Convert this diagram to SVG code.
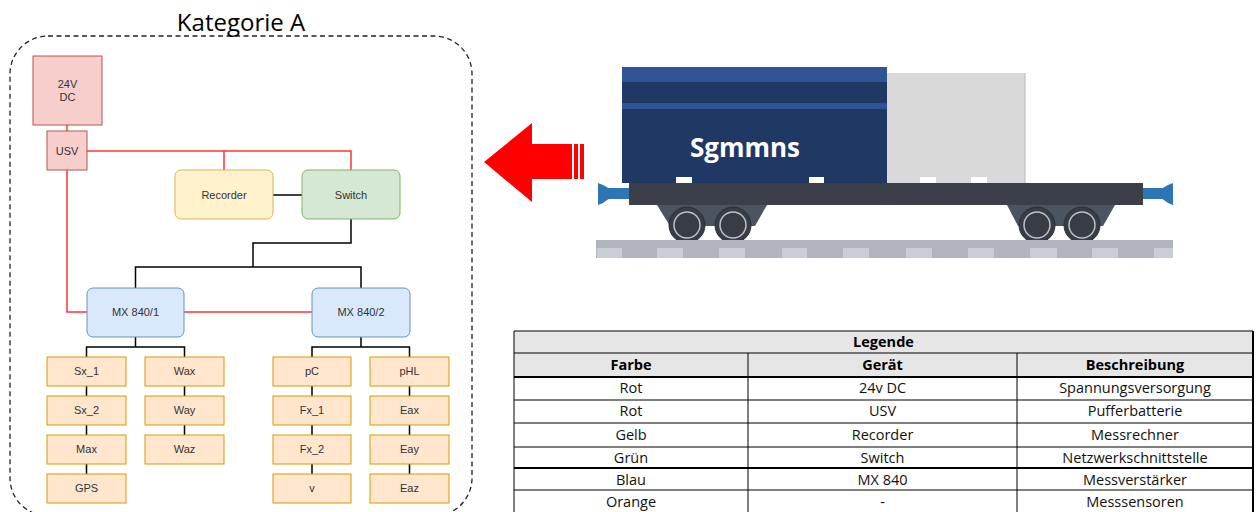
<svg xmlns="http://www.w3.org/2000/svg" width="1258" height="512" viewBox="0 0 1258 512">
  <style>
    .lbl { font-family: "Liberation Sans", Arial, sans-serif; font-size: 11px; fill: #333; text-anchor: middle; }
    .red { fill: #f8cecc; stroke: #b85450; stroke-width: 1; }
    .yel { fill: #fff2cc; stroke: #d6b656; stroke-width: 1; }
    .grn { fill: #d5e8d4; stroke: #82b366; stroke-width: 1; }
    .blu { fill: #dae8fc; stroke: #6c8ebf; stroke-width: 1; }
    .org { fill: #ffe6cc; stroke: #d79b00; stroke-width: 1; }
    .wire-r { fill: none; stroke: #ff3333; stroke-width: 1.5; }
    .wire-k { fill: none; stroke: #000; stroke-width: 1.5; }
    .tbl { font-family: "Open Sans", "Liberation Sans", sans-serif; font-size: 14.5px; fill: #111; text-anchor: middle; }
    .tblb { font-family: "Open Sans", "Liberation Sans", sans-serif; font-size: 14.5px; font-weight: bold; fill: #000; text-anchor: middle; }
    .ln { stroke: #000; stroke-width: 1; }
    .lnb { stroke: #000; stroke-width: 2; }
    .dash { fill: #c9cdd4; }
  </style>

  <!-- Category frame -->
  <rect x="10" y="36" width="462" height="480" rx="38" ry="38" fill="none" stroke="#222" stroke-width="1.3" stroke-dasharray="5 3.5"/>
  <text x="241" y="31" font-family="'Open Sans', 'Liberation Sans', sans-serif" font-size="24" fill="#000" text-anchor="middle">Kategorie A</text>

  <!-- Connectors -->
  <g id="connectors">
    <path class="wire-r" d="M67 125V131"/>
    <path class="wire-r" d="M87 151H351V170"/>
    <path class="wire-r" d="M224 151V170"/>
    <path class="wire-r" d="M67 170V312H87"/>
    <path class="wire-r" d="M184 312H312"/>
    <path class="wire-k" d="M273 195H302"/>
    <path class="wire-k" d="M351 219V243H253V267"/>
    <path class="wire-k" d="M135.5 288V267H361V288"/>
    <path class="wire-k" d="M135.5 337V347"/>
    <path class="wire-k" d="M86.5 357V347H184.5V357"/>
    <path class="wire-k" d="M361 337V347"/>
    <path class="wire-k" d="M312 357V347H409.5V357"/>
    <path class="wire-k" d="M86.5 386V396M86.5 425V435M86.5 464V474"/>
    <path class="wire-k" d="M184.5 386V396M184.5 425V435"/>
    <path class="wire-k" d="M312 386V396M312 425V435M312 464V474"/>
    <path class="wire-k" d="M409.5 386V396M409.5 425V435M409.5 464V474"/>
  </g>

  <!-- Power supply -->
  <g id="node-24vdc">
    <rect class="red" x="33" y="56" width="69" height="69"/>
    <text class="lbl" x="67.5" y="88">24V</text>
    <text class="lbl" x="67.5" y="101">DC</text>
  </g>
  <g id="node-usv">
    <rect class="red" x="47" y="131" width="40" height="39"/>
    <text class="lbl" x="67" y="155">USV</text>
  </g>
  <g id="node-recorder">
    <rect class="yel" x="175" y="170" width="98" height="49" rx="6"/>
    <text class="lbl" x="224" y="199">Recorder</text>
  </g>
  <g id="node-switch">
    <rect class="grn" x="302" y="170" width="98" height="49" rx="6"/>
    <text class="lbl" x="351" y="199">Switch</text>
  </g>
  <g id="node-mx1">
    <rect class="blu" x="87" y="288" width="97" height="49" rx="6"/>
    <text class="lbl" x="135.5" y="316">MX 840/1</text>
  </g>
  <g id="node-mx2">
    <rect class="blu" x="312" y="288" width="98" height="49" rx="6"/>
    <text class="lbl" x="361" y="316">MX 840/2</text>
  </g>

  <!-- Sensors, MX 840/1 -->
  <g id="node-sx1"><rect class="org" x="47" y="357" width="79" height="29"/><text class="lbl" x="86.5" y="375">Sx_1</text></g>
  <g id="node-sx2"><rect class="org" x="47" y="396" width="79" height="29"/><text class="lbl" x="86.5" y="414">Sx_2</text></g>
  <g id="node-max"><rect class="org" x="47" y="435" width="79" height="29"/><text class="lbl" x="86.5" y="453">Max</text></g>
  <g id="node-gps"><rect class="org" x="47" y="474" width="79" height="29"/><text class="lbl" x="86.5" y="492">GPS</text></g>
  <g id="node-wax"><rect class="org" x="145" y="357" width="79" height="29"/><text class="lbl" x="184.5" y="375">Wax</text></g>
  <g id="node-way"><rect class="org" x="145" y="396" width="79" height="29"/><text class="lbl" x="184.5" y="414">Way</text></g>
  <g id="node-waz"><rect class="org" x="145" y="435" width="79" height="29"/><text class="lbl" x="184.5" y="453">Waz</text></g>

  <!-- Sensors, MX 840/2 -->
  <g id="node-pc"><rect class="org" x="273" y="357" width="78" height="29"/><text class="lbl" x="312" y="375">pC</text></g>
  <g id="node-fx1"><rect class="org" x="273" y="396" width="78" height="29"/><text class="lbl" x="312" y="414">Fx_1</text></g>
  <g id="node-fx2"><rect class="org" x="273" y="435" width="78" height="29"/><text class="lbl" x="312" y="453">Fx_2</text></g>
  <g id="node-v"><rect class="org" x="273" y="474" width="78" height="29"/><text class="lbl" x="312" y="492">v</text></g>
  <g id="node-phl"><rect class="org" x="370" y="357" width="79" height="29"/><text class="lbl" x="409.5" y="375">pHL</text></g>
  <g id="node-eax"><rect class="org" x="370" y="396" width="79" height="29"/><text class="lbl" x="409.5" y="414">Eax</text></g>
  <g id="node-eay"><rect class="org" x="370" y="435" width="79" height="29"/><text class="lbl" x="409.5" y="453">Eay</text></g>
  <g id="node-eaz"><rect class="org" x="370" y="474" width="79" height="29"/><text class="lbl" x="409.5" y="492">Eaz</text></g>

  <!-- Direction arrow -->
  <g id="arrow" fill="#ff0000">
    <polygon points="484,162 532,123 532,144 572,144 572,179 532,179 532,202"/>
    <rect x="574" y="144" width="4" height="35"/>
    <rect x="580" y="144" width="4" height="35"/>
  </g>

  <!-- Wagon -->
  <g id="wagon">
    <rect x="622" y="67" width="265" height="116" fill="#203864"/>
    <rect x="622" y="67" width="265" height="15" fill="#2f5597"/>
    <rect x="622" y="103" width="265" height="6" fill="#2f5597"/>
    <rect x="887" y="73" width="138" height="110" fill="#d9d9d9"/>
    <line x1="1025" y1="73" x2="1025" y2="183" stroke="#b8b8b8" stroke-width="1"/>
    <rect x="676" y="177" width="16" height="6" fill="#fff"/>
    <rect x="809" y="177" width="15" height="6" fill="#fff"/>
    <rect x="920" y="177" width="16" height="6" fill="#fff"/>
    <rect x="971" y="177" width="16" height="6" fill="#fff"/>
    <text x="745" y="157" font-family="'Open Sans', 'Liberation Sans', sans-serif" font-size="26" font-weight="bold" fill="#fff" text-anchor="middle">Sgmmns</text>

    <!-- couplers -->
    <rect x="608" y="188" width="22" height="11" fill="#2e75b6"/>
    <polygon points="598,183 603,185 610,189 610,198 603,203 598,205" fill="#2e75b6"/>
    <rect x="1142" y="188" width="20" height="11" fill="#2e75b6"/>
    <polygon points="1173,183 1168,185 1161,189 1161,198 1168,203 1173,205" fill="#2e75b6"/>

    <!-- chassis and bogies -->
    <rect x="629" y="183" width="514" height="22" fill="#3b3f49"/>
    <polygon points="657,205 767,205 755,226 670,226" fill="#4b5461"/>
    <polygon points="1007,205 1115,205 1103,226 1018,226" fill="#4b5461"/>
    <g fill="#383c45" stroke="#2c3038" stroke-width="1">
      <circle cx="687" cy="225" r="18"/>
      <circle cx="733" cy="225" r="18"/>
      <circle cx="1037" cy="225" r="18"/>
      <circle cx="1082" cy="225" r="18"/>
    </g>
    <g fill="none" stroke="#bcc0c8" stroke-width="1.5">
      <circle cx="687" cy="225" r="13"/>
      <circle cx="733" cy="225" r="13"/>
      <circle cx="1037" cy="225" r="13"/>
      <circle cx="1082" cy="225" r="13"/>
    </g>

    <!-- rail -->
    <rect x="596" y="240" width="577" height="18" fill="#b1b4bc"/>
    <rect class="dash" x="597" y="248" width="25" height="10"/>
    <rect class="dash" x="657" y="248" width="26" height="10"/>
    <rect class="dash" x="719" y="248" width="26" height="10"/>
    <rect class="dash" x="782" y="248" width="25" height="10"/>
    <rect class="dash" x="843" y="248" width="26" height="10"/>
    <rect class="dash" x="906" y="248" width="26" height="10"/>
    <rect class="dash" x="968" y="248" width="26" height="10"/>
    <rect class="dash" x="1030" y="248" width="27" height="10"/>
    <rect class="dash" x="1092" y="248" width="26" height="10"/>
    <rect class="dash" x="1154" y="248" width="19" height="10"/>
  </g>

  <!-- Legend table -->
  <g id="legend">
    <rect x="514" y="331" width="739" height="46" fill="#e7e6e6"/>
    <rect x="514" y="377" width="739" height="140" fill="#fff"/>
    <g>
      <line class="ln" x1="514" y1="331" x2="1253" y2="331"/>
      <line class="ln" x1="514" y1="353" x2="1253" y2="353"/>
      <line class="lnb" x1="514" y1="377" x2="1253" y2="377"/>
      <line class="ln" x1="514" y1="400" x2="1253" y2="400"/>
      <line class="ln" x1="514" y1="423" x2="1253" y2="423"/>
      <line class="ln" x1="514" y1="447" x2="1253" y2="447"/>
      <line class="lnb" x1="514" y1="468" x2="1253" y2="468"/>
      <line class="ln" x1="514" y1="490" x2="1253" y2="490"/>
      <line class="ln" x1="514" y1="331" x2="514" y2="512"/>
      <line class="lnb" x1="1253" y1="331" x2="1253" y2="512"/>
      <line class="ln" x1="748" y1="353" x2="748" y2="512"/>
      <line class="ln" x1="1017" y1="353" x2="1017" y2="512"/>
    </g>
    <text class="tblb" x="883.5" y="347">Legende</text>
    <text class="tblb" x="631" y="370">Farbe</text>
    <text class="tblb" x="882.5" y="370">Gerät</text>
    <text class="tblb" x="1135" y="370">Beschreibung</text>

    <text class="tbl" x="631" y="393">Rot</text>
    <text class="tbl" x="882.5" y="393">24v DC</text>
    <text class="tbl" x="1135" y="393">Spannungsversorgung</text>

    <text class="tbl" x="631" y="416">Rot</text>
    <text class="tbl" x="882.5" y="416">USV</text>
    <text class="tbl" x="1135" y="416">Pufferbatterie</text>

    <text class="tbl" x="631" y="440">Gelb</text>
    <text class="tbl" x="882.5" y="440">Recorder</text>
    <text class="tbl" x="1135" y="440">Messrechner</text>

    <text class="tbl" x="631" y="463">Grün</text>
    <text class="tbl" x="882.5" y="463">Switch</text>
    <text class="tbl" x="1135" y="463">Netzwerkschnittstelle</text>

    <text class="tbl" x="631" y="485">Blau</text>
    <text class="tbl" x="882.5" y="485">MX 840</text>
    <text class="tbl" x="1135" y="485">Messverstärker</text>

    <text class="tbl" x="631" y="507">Orange</text>
    <text class="tbl" x="882.5" y="507">-</text>
    <text class="tbl" x="1135" y="507">Messsensoren</text>
  </g>
</svg>
